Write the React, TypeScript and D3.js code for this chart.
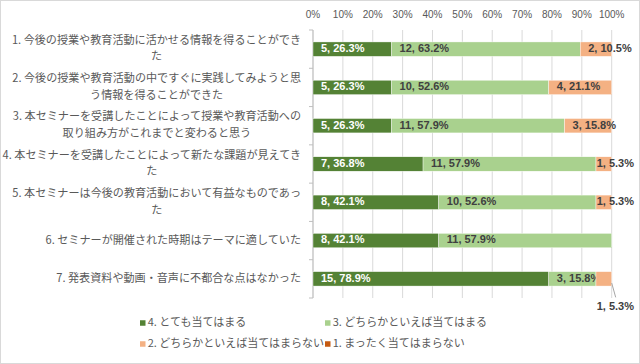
// Stacked 100% horizontal bar chart of seminar survey answers (19 respondents)
import React, { useEffect, useRef } from 'react';
import * as d3 from 'd3';

const categories: string[][] = [
  ['1. 今後の授業や教育活動に活かせる情報を得ることができ', 'た'],
  ['2. 今後の授業や教育活動の中ですぐに実践してみようと思', 'う情報を得ることができた'],
  ['3. 本セミナーを受講したことによって授業や教育活動への', '取り組み方がこれまでと変わると思う'],
  ['4. 本セミナーを受講したことによって新たな課題が見えてき', 'た'],
  ['5. 本セミナーは今後の教育活動において有益なものであっ', 'た'],
  ['6. セミナーが開催された時期はテーマに適していた'],
  ['7. 発表資料や動画・音声に不都合な点はなかった'],
];
const seriesNames = ['4. とても当てはまる', '3. どちらかといえば当てはまる', '2. どちらかといえば当てはまらない', '1. まったく当てはまらない'];
const veryTrue = [5, 5, 5, 7, 8, 8, 15];
const somewhatTrue = [12, 10, 11, 11, 10, 11, 3];
const somewhatNot = [2, 4, 3, 1, 1, 0, 1];
const notAtAll = [0, 0, 0, 0, 0, 0, 0];
const xTicks = [0, 0.1, 0.2, 0.3, 0.4, 0.5, 0.6, 0.7, 0.8, 0.9, 1];
// labels that Excel pushed out under the bar with a leader line: [category, series]
const calloutLabels = [[6, 2]];

const colors = ['#548235', '#A9D18E', '#F4B183', '#C55A11'];
const labelColors = ['#ffffff', '#404040', '#404040', '#404040'];
const W = 640, H = 364;
const jpFont = '"Noto Sans CJK JP", sans-serif';
const numFont = '"Liberation Sans", Arial, sans-serif';

export default function App() {
  const ref = useRef<SVGSVGElement>(null);

  useEffect(() => {
    const svg = d3.select(ref.current);
    svg.selectAll('*').remove();

    const series = [veryTrue, somewhatTrue, somewhatNot, notAtAll];
    const x = d3.scaleLinear().domain([0, 1]).range([313, 611.7]);
    const y = d3.scaleBand<number>()
      .domain(d3.range(categories.length))
      .range([30, 298])
      .paddingInner(0.624)
      .paddingOuter(0.312);
    const step = y.step();

    svg.append('rect')
      .attr('x', 0.5).attr('y', 0.5).attr('width', W - 1).attr('height', H - 1)
      .attr('fill', '#fff').attr('stroke', '#D9D9D9');

    // gridlines + top tick labels
    const grid = svg.append('g');
    grid.selectAll('line').data(xTicks).enter().append('line')
      .attr('x1', d => x(d)).attr('x2', d => x(d))
      .attr('y1', 30).attr('y2', 298)
      .attr('stroke', '#D9D9D9').attr('stroke-width', 1);
    grid.selectAll('text').data(xTicks).enter().append('text')
      .attr('x', d => x(d)).attr('y', 15)
      .attr('text-anchor', 'middle').attr('dominant-baseline', 'middle')
      .style('font-family', numFont).style('font-size', '10px').attr('fill', '#595959')
      .text(d => d3.format('.0%')(d));

    // category axis
    const axis = svg.append('g');
    axis.append('line')
      .attr('x1', x(0)).attr('x2', x(0)).attr('y1', 30).attr('y2', 298)
      .attr('stroke', '#BFBFBF');
    axis.selectAll('.tick').data(d3.range(categories.length + 1)).enter().append('line')
      .attr('x1', x(0) - 4).attr('x2', x(0))
      .attr('y1', d => 30 + d * step).attr('y2', d => 30 + d * step)
      .attr('stroke', '#BFBFBF');

    const lineH = 16.6;
    categories.forEach((lines, i) => {
      const cy = (y(i) as number) + y.bandwidth() / 2;
      const g = axis.append('g');
      const texts = g.selectAll('text').data(lines).enter().append('text')
        .attr('y', (d, k) => cy + (k - (lines.length - 1) / 2) * lineH)
        .attr('dominant-baseline', 'middle').attr('text-anchor', 'middle')
        .style('font-family', jpFont).style('font-size', '11.1px').attr('fill', '#595959')
        .text(d => d);
      const widths = texts.nodes().map(n => (n as SVGTextElement).getComputedTextLength());
      const blockW = d3.max(widths) || 0;
      texts.attr('x', 301 - blockW / 2);
    });

    // stacked bars
    const bars = svg.append('g');
    categories.forEach((_, i) => {
      const total = d3.sum(series, s => s[i]);
      let acc = 0;
      series.forEach((s, j) => {
        const v = s[i];
        const x0 = x(acc / total);
        acc += v;
        const x1 = x(acc / total);
        if (!v) return;
        const top = y(i) as number;
        bars.append('rect')
          .attr('x', x0).attr('y', top).attr('width', x1 - x0).attr('height', y.bandwidth())
          .attr('fill', colors[j]).attr('stroke', '#fff').attr('stroke-width', 0.4);

        const label = v + ', ' + (v / total * 100).toFixed(1) + '%';
        const t = bars.append('text')
          .attr('dominant-baseline', 'middle')
          .style('font-family', numFont).style('font-size', '11px').style('font-weight', 'bold')
          .text(label);
        const tw = (t.node() as SVGTextElement).getComputedTextLength();
        const callout = calloutLabels.some(c => c[0] === i && c[1] === j);
        if (callout) {
          const ly = top + y.bandwidth() / 2 + 28.5;
          t.attr('x', 634 - tw).attr('y', ly).attr('fill', '#404040');
          bars.append('line')
            .attr('x1', x1).attr('y1', top + y.bandwidth() - 3)
            .attr('x2', x1 + 4).attr('y2', ly - 10)
            .attr('stroke', '#A6A6A6').attr('stroke-width', 1);
        } else {
          let lx = x0 + 8;
          if (lx + tw > 634) lx = 634 - tw;
          t.attr('x', lx).attr('y', top + y.bandwidth() / 2).attr('fill', labelColors[j]);
        }
      });
    });

    // legend
    const legend = svg.append('g');
    const legX = [140, 325], legY = [323, 344];
    seriesNames.forEach((name, j) => {
      const lx = legX[j % 2], ly = legY[Math.floor(j / 2)];
      legend.append('rect')
        .attr('x', lx).attr('y', ly - 2.75).attr('width', 5.5).attr('height', 5.5)
        .attr('fill', colors[j]);
      legend.append('text')
        .attr('x', lx + 7.7).attr('y', ly)
        .attr('dominant-baseline', 'middle')
        .style('font-family', jpFont).style('font-size', '11px').attr('fill', '#595959')
        .text(name);
    });
  }, []);

  return (
    <svg ref={ref} width={W} height={H} style={{ position: 'absolute', left: 0, top: 0, display: 'block' }} />
  );
}
